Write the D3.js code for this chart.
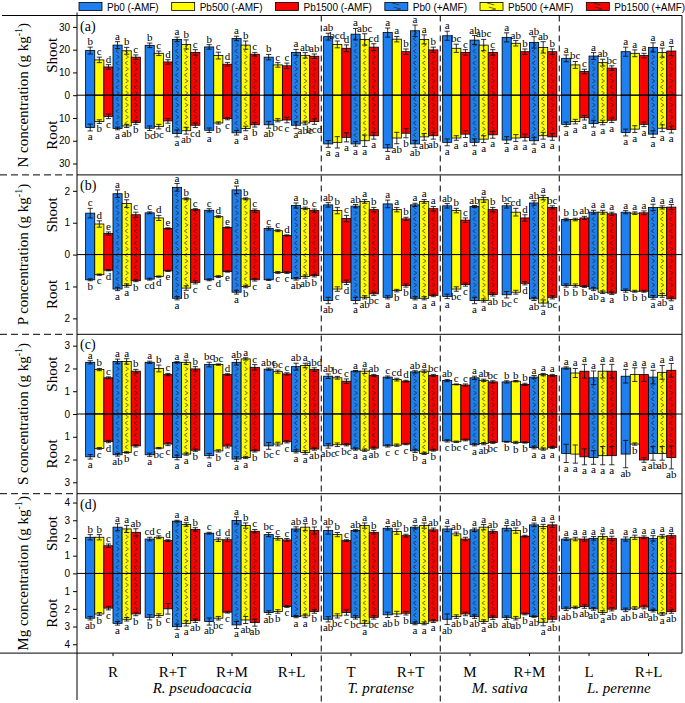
<!DOCTYPE html>
<html><head><meta charset="utf-8">
<script src="https://cdn.jsdelivr.net/npm/d3@7"></script>
<style>body{margin:0;background:#fff}</style>
</head><body>
<svg id="chart" width="685" height="703"></svg>
<script>
// ---------- DATA ----------
const seriesNames = ["Pb0 (-AMF)","Pb500 (-AMF)","Pb1500 (-AMF)","Pb0 (+AMF)","Pb500 (+AMF)","Pb1500 (+AMF)"];
const seriesColors = ["#1E7FF0","#FFFF00","#FF0000","#1E7FF0","#FFFF00","#FF0000"];
const seriesHatched = [false,false,false,true,true,true];
const groupLabels = ["R","R+T","R+M","R+L","T","R+T","M","R+M","L","R+L"];
const speciesLabels = ["R. pseudoacacia","T. pratense","M. sativa","L. perenne"];
const speciesFirst = [0,4,6,8];
const speciesLast = [3,5,7,9];

// N (g/kg)
const nShoot = [[19.6,15.5,12.4,22.0,19.5,16.7],[21.9,18.4,14.6,24.5,22.3,18.8],[21.2,17.4,13.6,24.9,22.0,18.0],[16.7,13.3,12.9,18.8,17.5,17.1],[25.7,22.3,20.6,26.8,24.5,21.1],[27.5,24.6,19.1,28.3,24.5,19.9],[26.1,20.6,18.8,24.2,22.0,18.8],[25.4,22.8,19.1,23.2,21.0,19.1],[16.2,13.3,10.4,17.2,14.3,11.9],[19.1,18.4,17.4,21.0,18.7,19.4]];
const nShootErr = [[1.5,1.2,1.0,1.5,1.5,1.0],[1.0,1.0,1.0,1.0,2.0,1.2],[1.0,1.5,0.8,1.0,1.8,0.8],[1.2,1.0,1.2,1.3,1.2,1.0],[1.5,1.5,1.5,2.5,2.5,1.5],[2.0,1.2,1.2,2.5,2.0,1.2],[2.0,1.8,1.2,2.0,2.5,1.2],[2.0,1.2,1.2,2.5,2.5,1.2],[1.5,1.5,1.0,1.5,1.5,1.0],[2.0,1.5,1.0,2.0,2.0,2.0]];
const nShootLet = ["b c d a b c","b c d a b c","b c d a b c","b c c a ab ab","ab bcd d a abc cd","a a b a a b","a bc c ab abc c","a ab b ab ab b","a bc c a ab bc","a a a a a a"];
const nRoot = [[14.2,11.6,9.3,14.6,13.5,12.0],[14.5,13.8,11.3,16.8,15.6,13.2],[15.4,12.2,10.3,16.5,14.6,13.0],[13.0,11.0,10.9,13.2,12.2,11.6],[21.4,20.7,18.5,21.4,20.0,17.8],[23.2,18.8,16.7,21.4,18.3,17.8],[20.7,18.8,17.1,20.7,19.3,17.4],[19.7,18.8,18.6,20.0,17.8,18.3],[12.8,11.6,9.9,12.5,12.0,11.0],[16.4,14.9,12.8,17.1,14.5,15.1]];
const nRootErr = [[1.5,0.8,1.0,0.6,0.7,0.8],[1.0,1.0,1.0,1.5,1.5,1.0],[1.0,0.5,0.5,1.0,1.0,1.0],[1.5,0.7,1.2,1.5,0.8,1.2],[1.5,2.5,2.0,1.0,2.5,1.5],[1.5,2.5,2.0,1.5,1.5,1.5],[1.5,1.0,1.5,1.5,1.5,1.5],[1.5,1.5,1.5,1.5,1.5,1.5],[1.0,1.0,1.0,1.5,1.0,1.0],[1.5,1.5,1.0,1.5,1.5,1.5]];
const nRootLet = ["a b c a ab b","bc bc d a ab cd","a b c a a b","ab bc c a abc bcd","a a a a a a","a ab b ab ab ab","a a a a a a","a a a a a a","a a a a a a","a a a a a a"];

// P (g/kg)
const pShoot = [[1.30,0.96,0.66,1.91,1.60,1.25],[1.31,1.15,0.82,2.11,1.75,1.41],[1.39,1.19,0.85,2.03,1.75,1.38],[0.82,0.75,0.60,1.54,1.45,1.38],[1.56,1.38,1.13,1.52,1.67,1.41],[1.59,1.41,1.12,1.56,1.67,1.44],[1.53,1.38,1.08,1.51,1.72,1.41],[1.53,1.33,1.15,1.62,1.79,1.48],[1.10,1.10,1.15,1.33,1.33,1.28],[1.33,1.30,1.31,1.48,1.48,1.49]];
const pShootErr = [[0.15,0.10,0.05,0.12,0.12,0.08],[0.03,0.08,0.02,0.12,0.03,0.03],[0.05,0.03,0.02,0.12,0.03,0.05],[0.05,0.03,0.02,0.08,0.04,0.05],[0.07,0.10,0.10,0.05,0.06,0.07],[0.12,0.07,0.05,0.05,0.06,0.07],[0.07,0.07,0.07,0.03,0.08,0.07],[0.07,0.12,0.10,0.07,0.07,0.05],[0.04,0.04,0.05,0.06,0.06,0.05],[0.05,0.04,0.06,0.10,0.05,0.08]];
const pShootLet = ["c d e a b c","c d e a b c","c d e a b c","c c d a b c","ab b c ab a b","a a b a a a","ab b c ab a b","bc cd d ab a bc","b b ab a a a","a a a a a a"];
const pRoot = [[0.79,0.63,0.49,1.08,0.97,0.82],[0.77,0.69,0.51,1.37,1.05,0.87],[0.79,0.69,0.53,1.18,1.00,0.79],[0.79,0.56,0.56,0.76,0.69,0.66],[1.44,1.08,0.87,1.44,1.34,1.23],[1.34,1.13,0.97,1.37,1.37,1.28],[1.31,1.08,0.94,1.44,1.44,1.25],[1.26,1.18,0.90,1.39,1.52,1.34],[0.97,0.97,1.00,1.08,1.18,1.21],[1.13,1.15,1.15,1.34,1.28,1.39]];
const pRootErr = [[0.03,0.02,0.02,0.05,0.05,0.03],[0.03,0.02,0.02,0.05,0.07,0.05],[0.03,0.03,0.02,0.06,0.04,0.04],[0.02,0.03,0.03,0.04,0.05,0.04],[0.10,0.07,0.07,0.10,0.05,0.05],[0.05,0.04,0.05,0.05,0.05,0.04],[0.07,0.07,0.05,0.10,0.05,0.05],[0.10,0.06,0.05,0.05,0.10,0.05],[0.05,0.05,0.03,0.05,0.04,0.04],[0.05,0.03,0.03,0.06,0.06,0.06]];
const pRootLet = ["b c d a a b","cd d e a b c","c d e a b c","a c c ab ab b","ab c d a ab bc","a b b a a a","a bc c a a ab","bc c d ab a bc","b b b ab a a","b b b a ab a"];

// S (g/kg)
const sShoot = [[2.27,1.95,1.59,2.31,2.31,1.88],[2.27,2.00,1.73,2.27,2.27,1.98],[2.17,2.17,1.73,2.27,2.42,2.05],[1.97,1.86,1.76,2.08,2.13,1.95],[1.66,1.59,1.44,1.88,1.88,1.69],[1.62,1.51,1.44,1.85,1.88,1.69],[1.47,1.30,1.27,1.59,1.48,1.41],[1.41,1.44,1.30,1.62,1.73,1.69],[2.02,1.80,1.88,1.59,1.88,1.88],[1.66,1.73,1.73,1.62,1.83,1.92]];
const sShootErr = [[0.07,0.05,0.04,0.10,0.12,0.08],[0.05,0.15,0.05,0.03,0.10,0.10],[0.10,0.03,0.04,0.12,0.05,0.12],[0.05,0.07,0.05,0.15,0.10,0.08],[0.10,0.06,0.10,0.03,0.10,0.05],[0.05,0.06,0.04,0.05,0.06,0.05],[0.05,0.02,0.05,0.07,0.05,0.05],[0.05,0.03,0.05,0.07,0.05,0.05],[0.05,0.20,0.30,0.30,0.30,0.30],[0.30,0.30,0.30,0.30,0.30,0.30]];
const sShootLet = ["a b c a a b","a b c a a b","bc bc d ab a c","abc bc c ab a abd","ab bc c a a ab","c cd d ab a bc","ab c c a ab bc","b b b a a a","a a a a a a","a a a a a a"];
const sRoot = [[1.88,1.51,1.21,1.79,1.69,1.40],[1.79,1.50,1.32,1.91,1.76,1.59],[1.83,1.62,1.41,1.98,1.91,1.62],[1.40,1.32,1.22,1.64,1.69,1.54],[1.40,1.35,1.35,1.54,1.59,1.50],[1.40,1.37,1.32,1.62,1.73,1.59],[1.18,1.22,1.14,1.35,1.30,1.25],[1.22,1.25,1.25,1.47,1.54,1.47],[1.73,1.76,1.88,1.91,1.83,1.83],[1.76,1.32,2.02,1.73,1.73,1.91]];
const sRootErr = [[0.10,0.04,0.05,0.06,0.03,0.05],[0.07,0.03,0.07,0.10,0.05,0.05],[0.10,0.05,0.08,0.10,0.05,0.05],[0.15,0.08,0.05,0.07,0.08,0.05],[0.10,0.08,0.05,0.05,0.05,0.05],[0.05,0.05,0.03,0.07,0.05,0.04],[0.05,0.03,0.04,0.05,0.05,0.04],[0.02,0.05,0.03,0.06,0.05,0.05],[0.40,0.40,0.35,0.30,0.40,0.40],[0.60,0.05,0.10,0.30,0.30,0.50]];
const sRootLet = ["a c d ab b c","a bc c a a b","a b c a a b","bc c c a a ab","abc c bc a a ab","c c c b a b","c bc c a ab bc","b b b a a a","a a a a a a","ab b a ab ab ab"];

// Mg (g/kg)
const mgShoot = [[2.04,2.04,1.56,2.61,2.51,2.32],[1.94,2.04,1.85,2.95,2.76,2.48],[2.27,1.90,1.90,2.99,2.70,2.38],[2.19,1.98,1.89,2.51,2.61,2.42],[2.42,2.19,1.85,2.42,2.70,2.32],[2.55,2.36,2.13,2.61,2.70,2.46],[2.51,2.23,1.94,2.46,2.61,2.36],[2.55,2.42,2.10,2.74,2.65,2.74],[1.94,1.94,1.94,1.98,2.08,1.98],[1.94,2.04,2.04,1.98,2.10,2.13]];
const mgShootErr = [[0.15,0.15,0.10,0.20,0.20,0.20],[0.10,0.08,0.05,0.05,0.10,0.10],[0.05,0.10,0.10,0.20,0.15,0.10],[0.12,0.10,0.08,0.12,0.20,0.20],[0.20,0.12,0.05,0.05,0.15,0.10],[0.10,0.15,0.08,0.10,0.15,0.10],[0.15,0.10,0.10,0.10,0.15,0.10],[0.15,0.15,0.05,0.10,0.12,0.15],[0.08,0.10,0.12,0.10,0.15,0.12],[0.12,0.12,0.08,0.15,0.10,0.12]];
const mgShootLet = ["b b c a a ab","cd c d a a b","c d d a b c","bc c c ab a b","ab b c ab a b","a ab b a a ab","a ab b a a ab","a ab b a a a","a a a a a a","a a a a a a"];
const mgRoot = [[2.53,2.29,1.96,2.82,2.59,2.29],[2.48,2.38,2.00,3.01,2.82,2.67],[2.72,2.53,2.19,2.91,2.63,2.78],[2.21,2.15,1.87,2.44,2.40,2.15],[2.59,2.40,2.21,2.48,2.82,2.48],[2.34,2.29,2.25,2.82,2.82,2.69],[2.59,2.44,2.29,2.44,2.72,2.50],[2.50,2.53,2.29,2.44,2.76,2.59],[2.00,1.92,1.87,2.00,2.21,2.02],[2.06,1.96,1.90,2.10,2.29,2.15]];
const mgRootErr = [[0.10,0.08,0.10,0.10,0.10,0.10],[0.15,0.10,0.30,0.15,0.15,0.10],[0.20,0.10,0.05,0.20,0.20,0.20],[0.10,0.10,0.05,0.06,0.10,0.10],[0.15,0.12,0.15,0.10,0.15,0.10],[0.15,0.15,0.10,0.08,0.08,0.08],[0.30,0.10,0.10,0.10,0.10,0.10],[0.10,0.10,0.05,0.04,0.20,0.15],[0.10,0.07,0.10,0.08,0.10,0.10],[0.10,0.08,0.10,0.08,0.08,0.10]];
const mgRootLet = ["ab b c a a b","b b c a a ab","ab bc c a ab ab","ab b c a a b","ab bc c bc a bc","ab b b a a a","ab ab b ab a ab","ab ab b ab a ab","ab b ab ab a ab","ab b ab ab a ab"];

const panelTags = ["(a)","(b)","(c)","(d)"];
const panelElements = ["N","P","S","Mg"];
const panelMax = [35, 2.5, 3.5, 4.5];
const panelTicks = [[-30,-20,-10,0,10,20,30],[-2,-1,0,1,2],[-3,-2,-1,0,1,2,3],[-4,-3,-2,-1,0,1,2,3,4]];

// ---------- LAYOUT ----------
const svg = d3.select("#chart");
const L = 77, R = 682, TOP = 15.5, PH = 159.4, BOTTOM = TOP + 4*PH;
const serif = "'Liberation Serif','Times New Roman',serif";
const sans = "'Liberation Sans',Arial,sans-serif";

const x = d3.scaleBand().domain(d3.range(10)).range([83.25, 678.25]).paddingInner(0.08).paddingOuter(0.04);
const xs = d3.scaleBand().domain(d3.range(6)).range([0, x.bandwidth()]);

// hatch patterns (one per hatched bar column so the marks sit inside each bar)
const defs = svg.append("defs");
function makePattern(id, color, px, w) {
  const p = defs.append("pattern").attr("id", id).attr("patternUnits","userSpaceOnUse")
    .attr("x", px).attr("y", 0).attr("width", w).attr("height", 12);
  p.append("rect").attr("width", w).attr("height", 12).attr("fill", color);
  p.append("path").attr("d", `M${w*0.62},1 L${w*0.32},3 L${w*0.62},5`).attr("fill","none").attr("stroke","#222").attr("stroke-width",0.7);
  p.append("path").attr("d", `M${w*0.38},7 L${w*0.68},9 L${w*0.38},11`).attr("fill","none").attr("stroke","#222").attr("stroke-width",0.7);
}
function fillFor(s, g) {
  if (!seriesHatched[s]) return seriesColors[s];
  return `url(#h${s}_${g})`;
}
for (let g = 0; g < 10; g++) for (let s = 3; s < 6; s++) makePattern(`h${s}_${g}`, seriesColors[s], x(g) + xs(s), xs.bandwidth());

// ---------- FRAME ----------
const frame = svg.append("g").attr("stroke","#000").attr("fill","none");
frame.append("line").attr("x1",2).attr("x2",R).attr("y1",TOP).attr("y2",TOP).attr("stroke-width",1);
frame.append("line").attr("x1",0).attr("x2",R).attr("y1",BOTTOM).attr("y2",BOTTOM).attr("stroke-width",1);
frame.append("line").attr("x1",L).attr("x2",L).attr("y1",TOP-3).attr("y2",700).attr("stroke-width",1);
frame.append("line").attr("x1",R).attr("x2",R).attr("y1",TOP).attr("y2",BOTTOM).attr("stroke-width",1);
for (let i = 1; i < 4; i++) {
  const yy = TOP + i*PH;
  frame.append("line").attr("x1",L).attr("x2",R).attr("y1",yy).attr("y2",yy);
  frame.append("line").attr("x1",0).attr("x2",L).attr("y1",yy).attr("y2",yy).attr("stroke-dasharray","7,4");
}
// vertical dashed species separators
speciesFirst.slice(1).forEach(g => {
  const xx = x(g) - x.step()*x.paddingInner()/2;
  frame.append("line").attr("x1",xx).attr("x2",xx).attr("y1",TOP).attr("y2",703).attr("stroke-dasharray","6,4");
});

// ---------- PANELS ----------
const panelData = [
  [nShoot,nShootErr,nShootLet,nRoot,nRootErr,nRootLet],
  [pShoot,pShootErr,pShootLet,pRoot,pRootErr,pRootLet],
  [sShoot,sShootErr,sShootLet,sRoot,sRootErr,sRootLet],
  [mgShoot,mgShootErr,mgShootLet,mgRoot,mgRootErr,mgRootLet]
];

panelData.forEach((pd, pi) => {
  const top = TOP + pi*PH;
  const y = d3.scaleLinear().domain([-panelMax[pi], panelMax[pi]]).range([top+PH, top]);
  const g = svg.append("g");
  const [sh, she, shl, rt, rte, rtl] = pd;
  const cap = 2.6;

  for (let gi = 0; gi < 10; gi++) {
    const lettersS = shl[gi].split(" ");
    const lettersR = rtl[gi].split(" ");
    for (let s = 0; s < 6; s++) {
      const bx = x(gi) + xs(s), bw = xs.bandwidth(), cx = bx + bw/2;
      const vs = sh[gi][s], es = she[gi][s];
      const vr = rt[gi][s], er = rte[gi][s];
      g.append("rect").attr("x",bx).attr("width",bw).attr("y",y(vs)).attr("height",y(0)-y(vs))
        .attr("fill",fillFor(s,gi)).attr("stroke","#000").attr("stroke-width",0.8);
      g.append("rect").attr("x",bx).attr("width",bw).attr("y",y(0)).attr("height",y(-vr)-y(0))
        .attr("fill",fillFor(s,gi)).attr("stroke","#000").attr("stroke-width",0.8);
      [[vs-es, vs+es],[-(vr-er), -(vr+er)]].forEach(([a,b]) => {
        g.append("line").attr("x1",cx).attr("x2",cx).attr("y1",y(a)).attr("y2",y(b)).attr("stroke","#000").attr("stroke-width",0.8);
        [a,b].forEach(v => g.append("line").attr("x1",cx-cap).attr("x2",cx+cap).attr("y1",y(v)).attr("y2",y(v)).attr("stroke","#000").attr("stroke-width",0.8));
      });
      g.append("text").attr("x",cx).attr("y",y(vs+es)-2).attr("text-anchor","middle")
        .attr("font-family",serif).attr("font-size",11).text(lettersS[s]);
      g.append("text").attr("x",cx).attr("y",y(-(vr+er))+9).attr("text-anchor","middle")
        .attr("font-family",serif).attr("font-size",11).text(lettersR[s]);
    }
  }
  g.append("line").attr("x1",L).attr("x2",R).attr("y1",y(0)).attr("y2",y(0)).attr("stroke","#000").attr("stroke-width",1);

  const ax = svg.append("g").attr("transform",`translate(${L},0)`)
    .call(d3.axisLeft(y).tickValues(panelTicks[pi]).tickFormat(d => Math.abs(d)).tickSize(4).tickPadding(3));
  ax.select(".domain").remove();
  ax.selectAll("text").attr("font-family",sans).attr("font-size",10);

  svg.append("text").attr("x",80).attr("y",top+15).attr("font-family",serif).attr("font-size",14).text(panelTags[pi]);

  const t = svg.append("text").attr("transform",`translate(28,${top+PH/2}) rotate(-90)`)
    .attr("text-anchor","middle").attr("font-family",serif).attr("font-size",15);
  t.append("tspan").text(`${panelElements[pi]} concentration (g kg`);
  t.append("tspan").attr("dy",-6).attr("font-size",10).text("-1");
  t.append("tspan").attr("dy",6).text(")");
  svg.append("text").attr("transform",`translate(57,${top+PH*0.25}) rotate(-90)`)
    .attr("text-anchor","middle").attr("font-family",serif).attr("font-size",15).text("Shoot");
  svg.append("text").attr("transform",`translate(57,${top+PH*0.75}) rotate(-90)`)
    .attr("text-anchor","middle").attr("font-family",serif).attr("font-size",15).text("Root");
});

// ---------- X AXIS ----------
const xa = svg.append("g").attr("transform",`translate(0,${BOTTOM})`)
  .call(d3.axisBottom(x).tickFormat(i => groupLabels[i]).tickSize(3).tickPadding(10));
xa.select(".domain").remove();
xa.selectAll("text").attr("font-family",serif).attr("font-size",15);
speciesLabels.forEach((sp, i) => {
  const x0 = x(speciesFirst[i]), x1 = x(speciesLast[i]) + x.bandwidth();
  svg.append("text").attr("x",(x0+x1)/2).attr("y",693).attr("text-anchor","middle")
    .attr("font-family",serif).attr("font-style","italic").attr("font-size",15).text(sp);
});

// ---------- LEGEND ----------
const lg = svg.append("g");
let lx = 79;
seriesNames.forEach((nm, s) => {
  if (seriesHatched[s]) makePattern(`lh${s}`, seriesColors[s], lx, 23);
  lg.append("rect").attr("x",lx).attr("y",2.5).attr("width",23).attr("height",8)
    .attr("fill", seriesHatched[s] ? `url(#lh${s})` : seriesColors[s]).attr("stroke","#000").attr("stroke-width",0.8);
  const tx = lg.append("text").attr("x",lx+28).attr("y",10.5).attr("font-family",sans).attr("font-size",10).text(nm);
  lx += 28 + tx.node().getComputedTextLength() + 13;
});
</script>
</body></html>
